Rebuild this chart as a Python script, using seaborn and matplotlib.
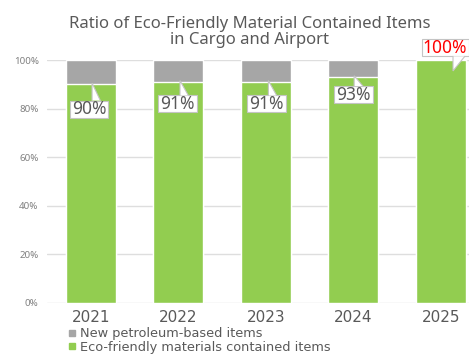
import matplotlib
matplotlib.use("Agg")
import matplotlib.pyplot as plt
import seaborn as sns
import pandas as pd
from matplotlib.lines import Line2D
from matplotlib.patches import Rectangle, Polygon

# ---- data ----
years = ["2021", "2022", "2023", "2024", "2025"]
eco_pct = [90, 91, 91, 93, 100]
petro_pct = [10, 9, 9, 7, 0]
label_texts = ["90%", "91%", "91%", "93%", "100%"]
yticks = [0, 20, 40, 60, 80, 100]
ytick_labels = ["0%", "20%", "40%", "60%", "80%", "100%"]
legend_labels = ["New petroleum-based items", "Eco-friendly materials contained items"]
title = "Ratio of Eco-Friendly Material Contained Items\nin Cargo and Airport"

GREEN = "#92cd50"
GRAY = "#a6a6a6"
TXT = "#595959"
EDGE = "#c4c4c4"

sns.set_theme(style="white")
plt.rcParams["font.family"] = ["Noto Sans", "DejaVu Sans"]

df = pd.DataFrame({"year": years, "eco": eco_pct, "petro": petro_pct})
df["total"] = df["eco"] + df["petro"]

fig = plt.figure(figsize=(4.69, 3.58), dpi=100)
ax = fig.add_axes([47 / 469, 55 / 358, 437.5 / 469, 243 / 358])

sns.barplot(data=df, x="year", y="total", color=GRAY, saturation=1, width=0.57, ax=ax, zorder=2)
sns.barplot(data=df, x="year", y="eco", color=GREEN, saturation=1, width=0.57, ax=ax, zorder=3)

ax.set_ylim(0, 100)
ax.set_xlim(-0.5, 4.5)
ax.set_yticks(yticks)
ax.set_yticklabels(ytick_labels, fontsize=7, color="#808080")
ax.tick_params(axis="y", length=0, pad=6)
ax.tick_params(axis="x", length=0, pad=5, labelsize=11, labelcolor=TXT)
for lab in ax.get_xticklabels():
    lab.set_family("DejaVu Sans")
ax.set_xlabel("")
ax.set_ylabel("")
ax.grid(axis="y", color="#dedede", linewidth=1, zorder=0)
ax.set_axisbelow(True)
for s in ax.spines.values():
    s.set_visible(False)

# callout labels (layout)
label_cx = [-0.02, -0.01, 0.01, 0.0, 0.05]
label_cy = [79.8, 81.9, 81.9, 85.8, 105.0]
half_w = [0.222, 0.222, 0.222, 0.222, 0.27]
tip_x = [0.015, 0.02, 0.03, 0.01, 0.14]
base_w = [0.095, 0.095, 0.095, 0.10, 0.135]
half_h = 3.5
for i, (v, t) in enumerate(zip(eco_pct, label_texts)):
    last = i == len(years) - 1
    cx, cy = i + label_cx[i], label_cy[i]
    hw = half_w[i]
    ax.add_patch(Rectangle((cx - hw, cy - half_h), 2 * hw, 2 * half_h, fc="white", ec=EDGE,
                           lw=0.8, zorder=5, clip_on=False))
    tx = i + tip_x[i]
    if last:
        edge_y, tip_y = cy - half_h, 95.5
    else:
        edge_y, tip_y = cy + half_h, v + 0.5
    ax.add_patch(Polygon([(tx, edge_y), (tx, tip_y), (tx + base_w[i], edge_y)], closed=False,
                         fc="white", ec="none", zorder=6, clip_on=False))
    ax.plot([tx, tx, tx + base_w[i]], [edge_y, tip_y, edge_y], color=EDGE, lw=0.8, zorder=7,
            clip_on=False, solid_joinstyle="miter")
    ax.text(cx, cy, t, ha="center", va="center", fontsize=12.5,
            color="#ff0000" if last else TXT, zorder=8, clip_on=False)

fig.text(0.533, 1 - 32 / 358, title, ha="center", va="center", fontsize=12, color=TXT,
         linespacing=1.05)

handles = [Line2D([], [], marker="s", linestyle="", color=GRAY, markersize=4),
           Line2D([], [], marker="s", linestyle="", color=GREEN, markersize=4)]
fig.legend(handles, legend_labels, loc="upper left", bbox_to_anchor=(68 / 469, 1 - 327.5 / 358),
           frameon=False, labelcolor=TXT, handlelength=0.6, handletextpad=0.3,
           prop={"family": "DejaVu Sans", "size": 9.3},
           labelspacing=0.0, borderaxespad=0, borderpad=0)

fig.savefig("out.png", dpi=100)
